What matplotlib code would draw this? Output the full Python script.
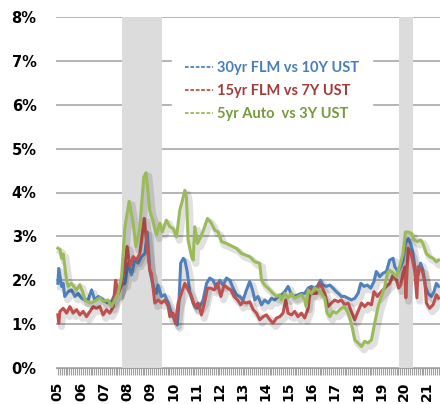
import numpy as np
import matplotlib
matplotlib.use("Agg")
import matplotlib.pyplot as plt
import matplotlib.patheffects as pe
from matplotlib.lines import Line2D

plt.rcParams['font.family'] = ['Lato', 'DejaVu Sans']

# spreads in %, time in decimal years
blue_t = [2005.00, 2005.04, 2005.16, 2005.23, 2005.30, 2005.45, 2005.59, 2005.74, 2005.88, 2006.02,
          2006.17, 2006.31, 2006.46, 2006.60, 2006.75, 2006.89, 2007.03, 2007.18, 2007.32, 2007.47,
          2007.61, 2007.76, 2007.90, 2008.04, 2008.19, 2008.33, 2008.48, 2008.62, 2008.77, 2008.87,
          2008.98, 2009.13, 2009.27, 2009.34, 2009.49, 2009.63, 2009.78, 2009.92, 2010.06, 2010.17,
          2010.25, 2010.32, 2010.43, 2010.50, 2010.60, 2010.71, 2010.86, 2011.00, 2011.15, 2011.29,
          2011.44, 2011.58, 2011.72, 2011.87, 2012.01, 2012.16, 2012.30, 2012.45, 2012.59, 2012.73,
          2012.88, 2013.02, 2013.17, 2013.31, 2013.43, 2013.53, 2013.67, 2013.82, 2013.96, 2014.11,
          2014.25, 2014.39, 2014.54, 2014.68, 2014.83, 2014.97, 2015.12, 2015.26, 2015.40, 2015.55,
          2015.69, 2015.84, 2015.98, 2016.13, 2016.27, 2016.37, 2016.49, 2016.63, 2016.78, 2016.92,
          2017.06, 2017.21, 2017.28, 2017.42, 2017.57, 2017.71, 2017.86, 2018.00, 2018.12, 2018.26,
          2018.40, 2018.55, 2018.69, 2018.79, 2018.94, 2019.08, 2019.23, 2019.37, 2019.52, 2019.59,
          2019.73, 2019.85, 2019.95, 2020.05, 2020.17, 2020.28, 2020.38, 2020.48, 2020.60, 2020.71,
          2020.81, 2020.92, 2021.03, 2021.18, 2021.29, 2021.39, 2021.49]
blue_v = [1.93, 2.27, 1.86, 1.93, 1.63, 1.74, 1.78, 1.63, 1.70, 1.59,
          1.55, 1.55, 1.78, 1.55, 1.63, 1.59, 1.52, 1.48, 1.52, 1.67,
          1.70, 1.90, 1.93, 2.39, 2.12, 2.46, 2.39, 2.54, 2.61, 3.10,
          2.23, 1.86, 1.70, 1.89, 1.63, 1.67, 1.48, 1.25, 1.10, 0.98,
          1.55, 2.39, 2.50, 2.46, 2.20, 1.75, 1.48, 1.36, 1.40, 1.55,
          1.93, 2.05, 2.00, 1.82, 2.00, 1.89, 2.05, 2.00, 1.82, 1.67,
          1.63, 1.55, 1.78, 1.97, 1.78, 1.55, 1.63, 1.44, 1.55, 1.48,
          1.59, 1.55, 1.63, 1.67, 1.74, 1.86, 1.67, 1.63, 1.67, 1.70,
          1.70, 1.82, 1.86, 1.82, 1.89, 2.00, 1.89, 1.86, 1.89, 1.82,
          1.74, 1.67, 1.63, 1.63, 1.59, 1.55, 1.59, 1.70, 1.93, 1.86,
          1.89, 1.82, 1.97, 2.20, 2.08, 2.16, 2.20, 2.46, 2.50, 2.31,
          2.20, 2.31, 2.46, 2.84, 2.95, 2.84, 2.61, 2.23, 2.12, 2.39,
          2.23, 1.86, 1.70, 1.63, 1.74, 1.93, 1.86]

red_t = [2005.00, 2005.04, 2005.09, 2005.23, 2005.38, 2005.52, 2005.66, 2005.81, 2005.95, 2006.10,
         2006.24, 2006.39, 2006.53, 2006.67, 2006.82, 2006.96, 2007.11, 2007.25, 2007.40, 2007.50,
         2007.61, 2007.76, 2007.90, 2008.00, 2008.12, 2008.26, 2008.41, 2008.55, 2008.74, 2008.86,
         2008.98, 2009.05, 2009.20, 2009.34, 2009.49, 2009.63, 2009.78, 2009.85, 2009.99, 2010.09,
         2010.21, 2010.35, 2010.50, 2010.64, 2010.79, 2010.93, 2011.08, 2011.22, 2011.33, 2011.48,
         2011.62, 2011.77, 2011.91, 2012.06, 2012.20, 2012.35, 2012.49, 2012.63, 2012.78, 2012.92,
         2013.02, 2013.17, 2013.31, 2013.46, 2013.60, 2013.74, 2013.89, 2014.03, 2014.18, 2014.32,
         2014.47, 2014.61, 2014.75, 2014.87, 2014.97, 2015.12, 2015.26, 2015.40, 2015.55, 2015.69,
         2015.84, 2015.94, 2016.05, 2016.20, 2016.31, 2016.46, 2016.56, 2016.70, 2016.85, 2016.99,
         2017.14, 2017.28, 2017.42, 2017.57, 2017.71, 2017.86, 2018.00, 2018.15, 2018.29, 2018.43,
         2018.58, 2018.69, 2018.84, 2018.94, 2019.08, 2019.23, 2019.37, 2019.52, 2019.66, 2019.76,
         2019.85, 2019.95, 2020.03, 2020.07, 2020.17, 2020.31, 2020.45, 2020.55, 2020.60, 2020.77,
         2020.89, 2020.96, 2021.10, 2021.25, 2021.39, 2021.49]
red_v = [1.21, 1.02, 1.29, 1.36, 1.25, 1.40, 1.25, 1.33, 1.21, 1.29,
         1.17, 1.29, 1.40, 1.36, 1.40, 1.21, 1.33, 1.25, 1.40, 2.00,
         1.70, 1.93, 2.31, 2.77, 2.31, 2.54, 2.46, 2.61, 3.41, 2.80,
         2.23, 2.16, 1.48, 1.55, 1.48, 1.55, 1.40, 1.17, 1.25, 1.02,
         1.48, 1.70, 1.93, 1.78, 1.63, 1.40, 1.48, 1.21, 1.44, 1.82,
         1.82, 1.78, 1.93, 1.63, 1.89, 1.82, 1.78, 1.63, 1.55, 1.44,
         1.51, 1.48, 1.51, 1.33, 1.25, 1.10, 1.17, 1.21, 1.10, 1.02,
         1.14, 1.17, 1.25, 1.55, 1.25, 1.21, 1.29, 1.17, 1.25, 1.14,
         1.36, 1.82, 1.70, 1.70, 1.93, 1.82, 1.70, 1.40, 1.48, 1.55,
         1.51, 1.55, 1.44, 1.48, 1.29, 1.10, 1.29, 1.48, 1.40, 1.48,
         1.44, 1.74, 1.63, 1.70, 1.78, 1.86, 1.93, 2.12, 2.01, 1.82,
         1.89, 2.16, 2.30, 1.60, 2.73, 2.58, 2.23, 1.60, 2.31, 2.23,
         2.00, 1.48, 1.36, 1.44, 1.67, 1.59]

green_t = [2005.00, 2005.09, 2005.16, 2005.23, 2005.38, 2005.45, 2005.59, 2005.74, 2005.81, 2005.95,
           2006.10, 2006.17, 2006.39, 2006.60, 2006.82, 2006.96, 2007.18, 2007.32, 2007.47, 2007.61,
           2007.76, 2007.90, 2008.09, 2008.26, 2008.38, 2008.55, 2008.72, 2008.82, 2008.98, 2009.13,
           2009.27, 2009.42, 2009.52, 2009.70, 2009.85, 2009.99, 2010.14, 2010.28, 2010.40, 2010.50,
           2010.57, 2010.64, 2010.79, 2010.86, 2010.93, 2011.05, 2011.19, 2011.33, 2011.48, 2011.65,
           2011.80, 2011.94, 2012.09, 2012.30, 2012.52, 2012.73, 2012.95, 2013.10, 2013.31, 2013.53,
           2013.74, 2013.82, 2013.96, 2014.18, 2014.32, 2014.47, 2014.61, 2014.68, 2014.83, 2014.97,
           2015.12, 2015.26, 2015.40, 2015.55, 2015.69, 2015.76, 2015.84, 2015.98, 2016.13, 2016.27,
           2016.41, 2016.56, 2016.66, 2016.78, 2016.92, 2017.06, 2017.21, 2017.28, 2017.42, 2017.57,
           2017.71, 2017.86, 2018.00, 2018.15, 2018.29, 2018.43, 2018.58, 2018.72, 2018.87, 2019.01,
           2019.16, 2019.27, 2019.37, 2019.52, 2019.66, 2019.80, 2019.95, 2020.05, 2020.17, 2020.31,
           2020.45, 2020.57, 2020.71, 2020.81, 2020.96, 2021.10, 2021.25, 2021.39, 2021.49]
green_v = [2.73, 2.70, 2.50, 2.60, 2.00, 1.86, 1.93, 1.82, 1.77, 1.90,
           1.70, 1.55, 1.48, 1.52, 1.60, 1.52, 1.55, 1.40, 1.55, 1.70,
           2.08, 3.20, 3.80, 3.30, 2.77, 3.20, 4.35, 4.45, 3.60, 3.33,
           3.03, 3.30, 3.10, 3.37, 3.22, 3.18, 2.99, 3.60, 3.83, 4.05,
           3.90, 2.92, 2.54, 2.46, 3.22, 2.84, 2.99, 3.18, 3.41, 3.30,
           3.14, 3.10, 2.88, 2.84, 2.78, 2.73, 2.61, 2.58, 2.54, 2.42,
           2.39, 2.00, 1.89, 1.78, 1.70, 1.63, 1.67, 1.55, 1.70, 1.59,
           1.70, 1.59, 1.63, 1.67, 1.55, 1.40, 1.78, 1.70, 1.82, 1.78,
           1.70, 1.59, 1.25, 1.17, 1.29, 1.25, 1.33, 1.36, 1.40, 1.25,
           1.02, 0.64, 0.57, 0.49, 0.61, 0.57, 0.64, 1.02, 1.40, 1.63,
           1.86, 2.16, 2.23, 2.16, 2.08, 2.31, 2.61, 3.10, 3.10, 3.07,
           2.92, 2.88, 2.92, 2.84, 2.61, 2.54, 2.50, 2.42, 2.46]

labels = ['30yr FLM vs 10Y UST', '15yr FLM vs 7Y UST', '5yr Auto  vs 3Y UST']
line_colors = ['#4F81BD', '#C0504D', '#9BBB59']
text_colors = ['#4A7EBB', '#A33C39', '#779A3A']
recessions = [(2007.78, 2009.52), (2019.78, 2020.36)]
years = list(range(2005, 2022))

fig = plt.figure(figsize=(4.4, 4.04), dpi=100)
ax = fig.add_axes([56 / 440, 1 - 368 / 404, 384 / 440, 351 / 404])

ax.set_ylim(0, 8)
ax.set_xlim(2004.92, 2021.55)
ax.set_yticks(range(0, 9))
ax.set_yticklabels([f'{i}%' for i in range(0, 9)], fontsize=10.5, fontweight='bold',
                   family='DejaVu Sans')
ax.yaxis.grid(True, color='#A0A0A0', linewidth=1.1, zorder=0)
ax.set_axisbelow(True)
ax.tick_params(axis='y', length=0, pad=14)

ax.set_xticks(years)
ax.set_xticklabels([f'{y % 100:02d}' for y in years], rotation=90, fontsize=10, fontweight='bold',
                   family='DejaVu Sans')
ax.set_xticks(np.arange(2005, 2021.55, 1 / 12), minor=True)
ax.tick_params(axis='x', which='both', length=5, color='#A0A0A0', width=0.8, pad=5)

for s in ['top', 'right', 'left']:
    ax.spines[s].set_visible(False)
ax.spines['bottom'].set_color('#A0A0A0')

for a, b in recessions:
    ax.axvspan(a, b, color='#DCDCDC', zorder=1, lw=0)

shadow = [pe.SimpleLineShadow(offset=(2, -2.5), shadow_color='black', alpha=0.12, linewidth=5), pe.Normal()]
series = [(blue_t, blue_v), (red_t, red_v), (green_t, green_v)]
for (t, v), c in zip(series, line_colors):
    ax.plot(t, v, color=c, lw=2.2, zorder=3, path_effects=shadow)

handles = [Line2D([], [], color=c, lw=1.3, linestyle=(0, (2, 1))) for c in line_colors]
leg = ax.legend(handles, labels, loc='upper left', bbox_to_anchor=((172 - 56) / 384, (368 - 48) / 351),
                borderaxespad=0, borderpad=0.9, frameon=True, fancybox=False, framealpha=1,
                edgecolor='white', facecolor='white', handlelength=1.9, handletextpad=0.3,
                labelspacing=0.62, prop={'weight': 'bold', 'size': 10.5}, labelcolor=text_colors)
leg.set_zorder(2)

fig.savefig('out.png', dpi=100)
